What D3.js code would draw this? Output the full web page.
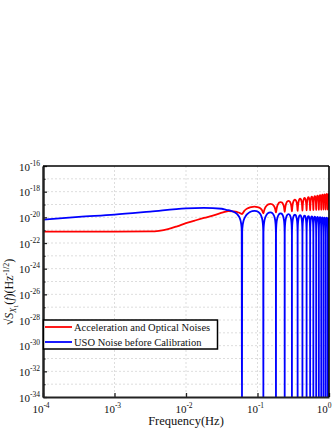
<!DOCTYPE html>
<html><head><meta charset="utf-8">
<script src="https://cdn.jsdelivr.net/npm/d3@7"></script>
<style>body{margin:0;background:#fff}svg{display:block}</style>
</head><body>
<svg id="c" width="332" height="430"></svg>
<script>
// ---------- data ----------
const yMajorExp = [-16,-18,-20,-22,-24,-26,-28,-30,-32,-34];
const yMinorExp = [-17,-19,-21,-23,-25,-27,-29,-31,-33];
const xMajorExp = [-4,-3,-2,-1,0];
const seriesNames = ["Acceleration and Optical Noises","USO Noise before Calibration"];
const seriesColors = ["#ff0000","#0000ff"];

// low-frequency part (Hz, log10 of amplitude)
const redLowF  = [1e-4, 3.16e-4, 1e-3, 3.16e-3, 4.2e-3, 5.6e-3, 7.5e-3, 1e-2, 1.33e-2, 1.78e-2, 2.5e-2, 3.3e-2];
const redLowV  = [-21.12,-21.12,-21.12,-21.1,-21.05,-20.92,-20.7,-20.45,-20.25,-20.05,-19.83,-19.62];
const blueLowF = [1e-4, 3.16e-4, 1e-3, 3.16e-3, 1e-2, 1.78e-2, 3.16e-2];
const blueLowV = [-20.18,-19.97,-19.79,-19.55,-19.3,-19.27,-19.33];

// transfer-function nulls (Hz)
const nullF = [0.0606,0.1207,0.1812,0.240,0.303,0.364,0.425,0.486,0.545,0.604,0.662,0.721,0.779,0.838,0.899,0.962];
// arch tops after each null (log10)
const bluePeakV = [-19.50,-19.61,-19.69,-19.75,-19.80,-19.83,-19.87,-19.90,-19.92,-19.94,-19.97,-19.98,-20.00,-20.02,-20.03,-20.05];
const redPeakV  = [-19.17,-18.95,-18.81,-18.71,-18.62,-18.55,-18.49,-18.43,-18.39,-18.35,-18.31,-18.27,-18.24,-18.21,-18.18,-18.15];
// red value at each null (log10)
const redDipV   = [-19.75,-19.68,-19.62,-19.57,-19.53,-19.50,-19.48,-19.46,-19.45,-19.44,-19.43,-19.42,-19.41,-19.40,-19.40,-19.40];
const bluePreV = -19.40, redPreV = -19.50;

// ---------- layout ----------
const L = 43, R = 329, T = 166, B = 397;
const svg = d3.select("#c");
const x = d3.scaleLog().domain([1e-4, 1]).range([L, R]);
const y = d3.scaleLog().domain([1e-34, 1e-16]).range([B, T]);
const P = v => Math.pow(10, v);

// shape of the curve near a null: [fraction of spacing, log offset]
const blueShoulder = [[0.4,-0.02],[0.3,-0.09],[0.2,-0.23],[0.12,-0.43],[0.07,-0.65],[0.04,-0.9],[0.02,-1.2],[0.008,-1.6]];
const redShoulder  = [[0.35,0.95],[0.25,0.85],[0.15,0.67],[0.08,0.43],[0.03,0.14]];
const floorV = -36.5;

function bluePoints(){
  const pts = blueLowF.map((f,i)=>[f, blueLowV[i]]);
  nullF.forEach((fn,k)=>{
    const sL = k===0 ? fn : fn - nullF[k-1];
    const sR = k<nullF.length-1 ? nullF[k+1]-fn : sL;
    const pL = k===0 ? bluePreV : bluePeakV[k-1];
    blueShoulder.forEach(([t,o])=>pts.push([fn - t*sL, pL+o]));
    pts.push([fn, floorV]);
    blueShoulder.slice().reverse().forEach(([t,o])=>pts.push([fn + t*sR, bluePeakV[k]+o]));
    pts.push([fn + 0.5*sR, bluePeakV[k]]);
  });
  return pts.filter(p=>p[0]<=1.02);
}
function redPoints(){
  const pts = redLowF.map((f,i)=>[f, redLowV[i]]);
  nullF.forEach((fn,k)=>{
    const sL = k===0 ? fn : fn - nullF[k-1];
    const sR = k<nullF.length-1 ? nullF[k+1]-fn : sL;
    const pL = k===0 ? redPreV : redPeakV[k-1];
    const d = redDipV[k];
    redShoulder.forEach(([t,g])=>pts.push([fn - t*sL, d+(pL-d)*g]));
    pts.push([fn, d]);
    redShoulder.slice().reverse().forEach(([t,g])=>pts.push([fn + t*sR, d+(redPeakV[k]-d)*g]));
    pts.push([fn + 0.5*sR, redPeakV[k]]);
  });
  return pts.filter(p=>p[0]<=1.02);
}

// ---------- grid ----------
svg.append("defs").append("clipPath").attr("id","clip")
  .append("rect").attr("x",L).attr("y",T).attr("width",R-L).attr("height",B-T);
const grid = svg.append("g").attr("stroke","#d4d4d4").attr("stroke-width",0.8).attr("stroke-dasharray","2,2");
for (let e=-17; e>=-33; e--) grid.append("line").attr("x1",L).attr("x2",R).attr("y1",y(P(e))).attr("y2",y(P(e)));
xMajorExp.slice(1,-1).forEach(e=>grid.append("line").attr("y1",T).attr("y2",B).attr("x1",x(P(e))).attr("x2",x(P(e))));

// ---------- curves ----------
const line = d3.line().x(d=>x(d[0])).y(d=>y(P(d[1]))).curve(d3.curveMonotoneX);
const curves = svg.append("g").attr("clip-path","url(#clip)").attr("fill","none").attr("stroke-width",1.8);
curves.append("path").attr("d", line(redPoints())).attr("stroke", seriesColors[0]);
curves.append("path").attr("d", line(bluePoints())).attr("stroke", seriesColors[1]);

// ---------- axes ----------
const yAxMaj = d3.axisLeft(y).tickValues(yMajorExp.map(P)).tickSize(-4).tickSizeOuter(0).tickFormat(()=> "");
const yAxMin = d3.axisLeft(y).tickValues(yMinorExp.map(P)).tickSize(-2.5).tickSizeOuter(0).tickFormat(()=> "");
const xAxMaj = d3.axisBottom(x).tickValues(xMajorExp.map(P)).tickSize(-4).tickSizeOuter(0).tickFormat(()=> "");
[yAxMaj,yAxMin].forEach(a=>{
  const g = svg.append("g").attr("transform",`translate(${L},0)`).call(a);
  g.selectAll(".tick line").attr("stroke","#222").attr("stroke-width",1.3);
  g.select(".domain").attr("stroke","#222").attr("stroke-width",2);
});
{
  const g = svg.append("g").attr("transform",`translate(0,${B})`).call(xAxMaj);
  g.selectAll(".tick line").attr("stroke","#222").attr("stroke-width",1.3);
  g.select(".domain").attr("stroke","#222").attr("stroke-width",1.8);
}
// top & right frame
svg.append("line").attr("x1",L).attr("x2",R).attr("y1",T).attr("y2",T).attr("stroke","#000").attr("stroke-width",1.6);
svg.append("line").attr("x1",R).attr("x2",R).attr("y1",T).attr("y2",B).attr("stroke","#000").attr("stroke-width",1.6);

const font = "'Liberation Serif','Times New Roman',serif";
function powLabel(sel, e){
  sel.append("tspan").text("10");
  sel.append("tspan").attr("font-size",7.5).attr("dy",-5).text(String(e));
}
yMajorExp.forEach(e=>{
  const t = svg.append("text").attr("x",40).attr("y",y(P(e))+4.5).attr("text-anchor","end")
    .attr("font-family",font).attr("font-size",11).attr("fill","#111");
  powLabel(t,e);
});
xMajorExp.forEach((e,i)=>{
  const last = i===xMajorExp.length-1;
  const t = svg.append("text").attr("x", last ? 331.5 : x(P(e))-2).attr("y",413)
    .attr("text-anchor", last ? "end" : "middle")
    .attr("font-family",font).attr("font-size",11).attr("fill","#111");
  powLabel(t,e);
});

// axis titles
svg.append("text").attr("x",186).attr("y",425).attr("text-anchor","middle")
  .attr("font-family",font).attr("font-size",12.5).attr("fill","#111").text("Frequency(Hz)");
{
  const t = svg.append("text").attr("transform","translate(13,292) rotate(-90)").attr("text-anchor","middle")
    .attr("font-family",font).attr("font-size",12).attr("fill","#111");
  t.append("tspan").text("\u221A");
  t.append("tspan").attr("font-style","italic").text("S");
  t.append("tspan").attr("font-style","italic").attr("font-size",8).attr("dy",3).text("X");
  t.append("tspan").attr("font-size",6).attr("dy",1.5).text("1");
  t.append("tspan").attr("dy",-4.5).text("(");
  t.append("tspan").attr("font-style","italic").text("f");
  t.append("tspan").text(")(Hz");
  t.append("tspan").attr("font-size",8).attr("dy",-4.5).text("-1/2");
  t.append("tspan").attr("dy",4.5).text(")");
}

// legend
const lg = svg.append("g");
lg.append("rect").attr("x",43.5).attr("y",320).attr("width",174).attr("height",29)
  .attr("fill","#fff").attr("stroke","#000").attr("stroke-width",1.5);
seriesNames.forEach((n,i)=>{
  const yy = 327 + i*15;
  lg.append("line").attr("x1",45).attr("x2",72).attr("y1",yy).attr("y2",yy)
    .attr("stroke",seriesColors[i]).attr("stroke-width",1.8);
  lg.append("text").attr("x",74).attr("y",yy+3.7).attr("font-family",font).attr("font-size",10.5)
    .attr("fill","#111").text(n);
});
</script>
</body></html>
